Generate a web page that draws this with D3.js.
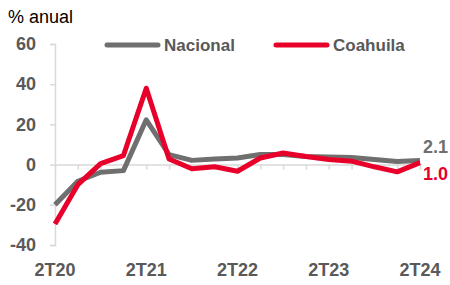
<!DOCTYPE html>
<html>
<head>
<meta charset="utf-8">
<script src="https://cdn.jsdelivr.net/npm/d3@7"></script>
<style>
  body { margin: 0; background: #fff; }
  text { font-family: "Liberation Sans", Arial, sans-serif; }
</style>
</head>
<body>
<div class="chart"></div>
<script>
// Data
let quarters = ["2T20", "3T20", "4T20", "1T21", "2T21", "3T21", "4T21", "1T22", "2T22",
    "3T22", "4T22", "1T23", "2T23", "3T23", "4T23", "1T24", "2T24"];
let nacional = [-20, -8.3, -3.8, -3, 22.3, 5, 2.1, 2.8, 3.3, 5, 5, 4, 3.8, 3.5, 2.5, 1.5, 2.1];
let coahuila = [-29.5, -10, 0.5, 4.5, 38, 2.8, -2.1, -1.1, -3.3, 3.3, 5.8, 4, 2.5, 1.7, -1.1, -3.6, 1.0];
let yTicks = [-40, -20, 0, 20, 40, 60];
let xLabels = ["2T20", "2T21", "2T22", "2T23", "2T24"];
let seriesNames = ["Nacional", "Coahuila"];
let colors = ["#6F6F6F", "#E8002B"];

let svg = d3.select(".chart").append("svg")
    .attr("width", 450)
    .attr("height", 285);

let x = d3.scalePoint()
    .domain(quarters)
    .range([55, 420]);

let y = d3.scaleLinear()
    .domain([-40, 60])
    .range([245, 44]);

// y axis
let yAxis = svg.append("g")
    .attr("transform", "translate(55,0)")
    .call(d3.axisLeft(y).tickValues(yTicks).tickSize(5).tickPadding(14)
        .tickFormat(d => String(d)));
yAxis.select(".domain").attr("stroke", "#D9D9D9").attr("stroke-width", 1.5);
yAxis.selectAll(".tick line").attr("stroke", "#D9D9D9").attr("stroke-width", 1.5);
yAxis.selectAll(".tick text")
    .attr("fill", "#595959")
    .style("font-size", "18px")
    .style("font-weight", "bold");

// zero line with category ticks
let xAxis = svg.append("g")
    .attr("transform", `translate(0,${y(0)})`)
    .call(d3.axisBottom(x).tickSize(5).tickSizeOuter(0));
xAxis.select(".domain").attr("stroke", "#D9D9D9").attr("stroke-width", 1.5);
xAxis.selectAll(".tick line").attr("stroke", "#D9D9D9").attr("stroke-width", 1.5);
xAxis.selectAll(".tick text").remove();

// x labels at bottom
svg.append("g").selectAll("text")
    .data(xLabels)
    .join("text")
    .attr("x", d => x(d))
    .attr("y", 276)
    .attr("text-anchor", "middle")
    .attr("fill", "#595959")
    .style("font-size", "18px")
    .style("font-weight", "bold")
    .text(d => d);

// lines
let line = d3.line()
    .x((d, i) => x(quarters[i]))
    .y(d => y(d));

[nacional, coahuila].forEach((values, i) => {
    svg.append("path")
        .datum(values)
        .attr("d", line)
        .attr("fill", "none")
        .attr("stroke", colors[i])
        .attr("stroke-width", 5)
        .attr("stroke-linejoin", "round");
});

// end labels
let last = quarters.length - 1;
svg.append("text")
    .attr("x", x(quarters[last]) + 3)
    .attr("y", y(nacional[last]) - 7)
    .attr("fill", "#6F6F6F")
    .style("font-size", "18px")
    .style("font-weight", "bold")
    .text(d3.format(".1f")(nacional[last]));
svg.append("text")
    .attr("x", x(quarters[last]) + 3)
    .attr("y", y(coahuila[last]) + 17)
    .attr("fill", "#E8002B")
    .style("font-size", "18px")
    .style("font-weight", "bold")
    .text(d3.format(".1f")(coahuila[last]));

// legend
let legendX = [105, 274];
seriesNames.forEach((name, i) => {
    svg.append("line")
        .attr("x1", legendX[i] + 2)
        .attr("x2", legendX[i] + 53)
        .attr("y1", 45)
        .attr("y2", 45)
        .attr("stroke", colors[i])
        .attr("stroke-width", 5)
        .attr("stroke-linecap", "round");
    svg.append("text")
        .attr("x", legendX[i] + 59)
        .attr("y", 51)
        .attr("fill", "#595959")
        .style("font-size", "17px")
        .style("font-weight", "bold")
        .text(name);
});

// unit title
svg.append("text")
    .attr("x", 8)
    .attr("y", 23)
    .attr("fill", "#000")
    .style("font-size", "18px")
    .text("% anual");
</script>
</body>
</html>
